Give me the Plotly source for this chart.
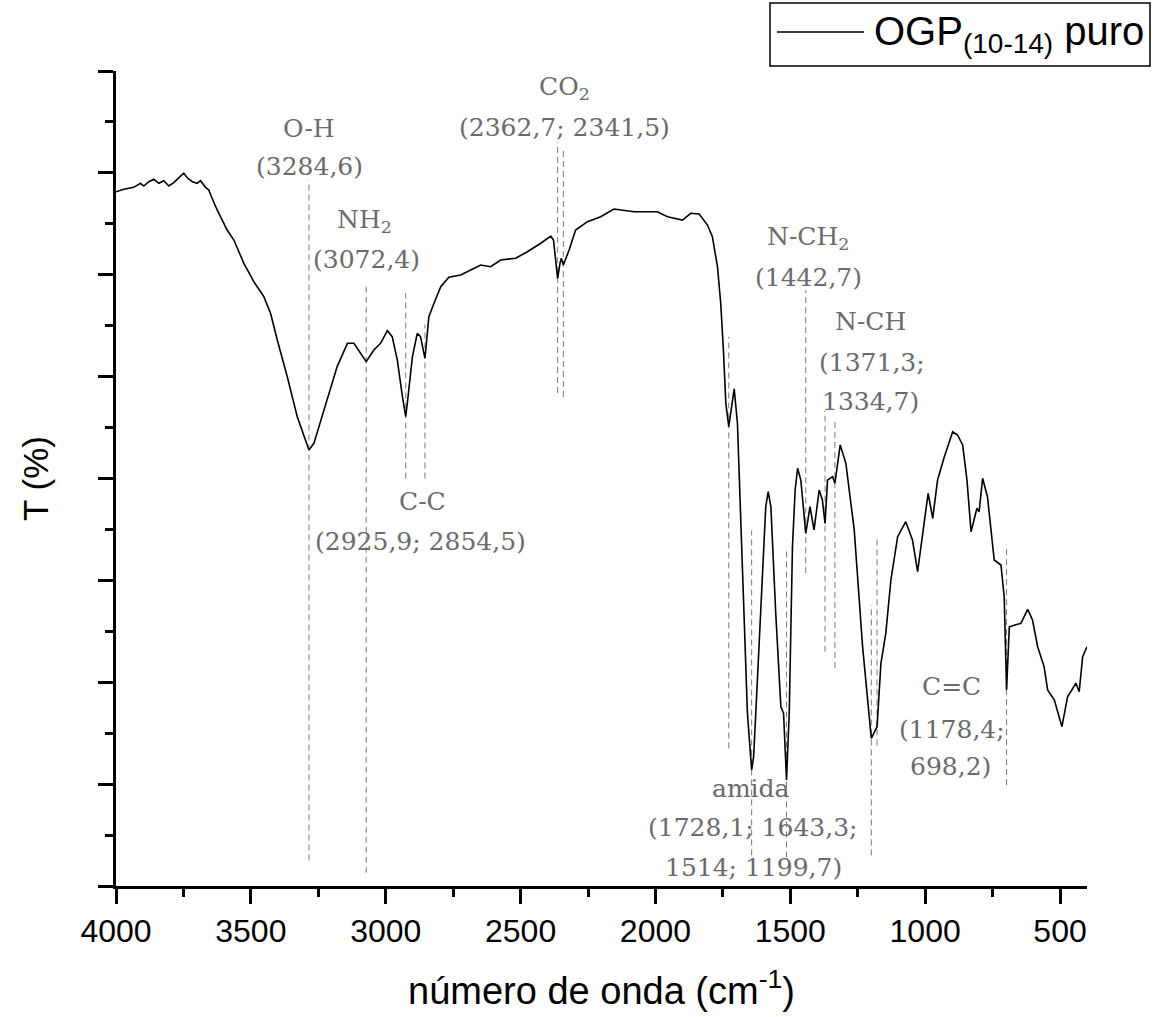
import plotly.graph_objects as go

# ---------------- data ----------------
wavenumber = [4000, 3971, 3934, 3909, 3897, 3878, 3860, 3841, 3823, 3804, 3786, 3761, 3749, 3734, 3717,
              3699, 3687, 3668, 3656, 3646, 3625, 3588, 3563, 3526, 3489, 3452, 3427, 3402, 3365, 3328,
              3284.6, 3266, 3217, 3180, 3142, 3118, 3072.4, 3044, 3019, 2994, 2976, 2957, 2938, 2925.9,
              2920, 2901, 2883, 2871, 2854.5, 2840, 2821, 2796, 2766, 2722, 2685, 2648, 2611, 2574, 2518,
              2475, 2425, 2388, 2378, 2362.7, 2354, 2349, 2341.5, 2320, 2296, 2252, 2203, 2154, 2079,
              1993, 1955, 1900, 1869, 1838, 1807, 1789, 1770, 1758, 1748, 1739, 1728.1, 1718, 1708, 1696,
              1684, 1671, 1659, 1643.3, 1636, 1622, 1603, 1591, 1582, 1572, 1554, 1535, 1525, 1514, 1504,
              1492, 1482, 1473, 1461, 1442.7, 1427, 1412, 1393, 1381, 1371.3, 1362, 1343, 1334.7, 1315,
              1294, 1263, 1232, 1199.7, 1178.4, 1164, 1146, 1127, 1102, 1072, 1047, 1028, 1004, 989, 972,
              954, 929, 898, 880, 861, 845, 830, 808, 800, 787, 769, 744, 719, 707, 698.2, 688, 670, 645,
              620, 602, 583, 559, 546, 521, 493, 472, 441, 429, 416, 400]
transmittance = [68.15, 68.39, 68.58, 68.98, 68.71, 69.13, 69.37, 68.98, 69.23, 68.71, 69.04, 69.69, 69.96,
                 69.47, 69.13, 68.98, 69.23, 68.58, 68.32, 67.66, 66.36, 64.39, 63.41, 61.12, 59.32, 57.85,
                 56.22, 53.60, 49.99, 46.07, 42.80, 43.46, 47.71, 50.98, 53.27, 53.27, 51.47, 52.61, 53.27,
                 54.51, 53.92, 51.63, 48.03, 46.07, 47.38, 51.96, 54.25, 53.92, 51.80, 55.88, 57.20, 58.83,
                 59.75, 59.98, 60.47, 60.96, 60.79, 61.45, 61.62, 62.26, 63.09, 63.80, 63.41, 59.65, 61.12,
                 61.62, 60.96, 62.43, 64.39, 65.21, 65.70, 66.45, 66.19, 66.19, 65.70, 65.37, 66.03, 65.96,
                 64.88, 63.74, 60.79, 57.20, 52.61, 47.38, 45.09, 47.05, 48.79, 45.42, 36.58, 26.77, 16.95,
                 11.39, 12.69, 20.22, 30.04, 37.23, 38.70, 37.23, 26.77, 17.60, 16.95, 10.40, 16.95, 33.31,
                 38.87, 41.00, 39.85, 34.62, 37.23, 34.95, 38.87, 37.89, 35.60, 39.85, 40.18, 39.53, 43.29,
                 41.49, 34.95, 23.49, 14.50, 15.64, 21.86, 24.80, 30.04, 34.29, 35.76, 33.96, 30.85, 35.93,
                 38.55, 36.09, 39.85, 42.14, 44.59, 44.27, 43.29, 39.85, 34.78, 37.08, 36.74, 40.02, 38.21,
                 32.00, 31.51, 28.40, 19.24, 25.45, 25.62, 25.79, 27.16, 26.11, 23.49, 21.53, 19.24, 18.26,
                 15.64, 18.58, 19.90, 19.07, 22.51, 23.49]

series_name = "OGP<sub>(10-14)</sub> puro"

# assigned bands (cm-1) and the vertical extent of their marker lines (T %)
band_positions = [3284.6, 3072.4, 2925.9, 2854.5, 2362.7, 2341.5, 1728.1, 1643.3, 1514.0,
                  1442.7, 1371.3, 1334.7, 1199.7, 1178.4, 698.2]
band_top = [69.3, 59.2, 58.2, 55.1, 73.0, 72.5, 53.9, 34.9, 33.2, 58.5, 46.7, 45.9, 27.6, 34.4, 33.5]
band_bottom = [2.5, 1.3, 40.0, 40.0, 48.4, 48.0, 13.5, 3.0, 2.8, 30.7, 23.0, 21.4, 3.0, 13.8, 9.9]

# band label lines
label_text = ["O-H", "(3284,6)",
              "CO<sub>2</sub>", "(2362,7; 2341,5)",
              "NH<sub>2</sub>", "(3072,4)",
              "C-C", "(2925,9; 2854,5)",
              "N-CH<sub>2</sub>", "(1442,7)",
              "N-CH", "(1371,3;", "1334,7)",
              "amida", "(1728,1; 1643,3;", "1514; 1199,7)",
              "C=C", "(1178,4;", "698,2)"]
label_x = [3283, 3283,
           2336, 2336,
           3078, 3072,
           2863, 2871,
           1435, 1432,
           1201, 1197, 1201,
           1647, 1637, 1637,
           901, 901, 906]
label_y = [74.4, 70.6,
           78.3, 74.5,
           65.3, 61.5,
           37.7, 33.8,
           63.6, 59.7,
           55.4, 51.4, 47.6,
           9.6, 5.7, 1.8,
           19.6, 15.4, 11.7]

x_tick_values = [4000, 3500, 3000, 2500, 2000, 1500, 1000, 500]
x_tick_labels = ["4000", "3500", "3000", "2500", "2000", "1500", "1000", "500"]

# ---------------- figure ----------------
W, H = 1157, 1017
L, R, T, B = 116, 70, 71, 131

fig = go.Figure()
fig.add_trace(go.Scatter(x=wavenumber, y=transmittance, mode="lines", name=series_name,
                         line=dict(color="black", width=1.6), showlegend=False))

gray = "#6a6a6a"
for xv, y0, y1 in zip(band_positions, band_bottom, band_top):
    fig.add_shape(type="line", xref="x", yref="y", x0=xv, x1=xv, y0=y0, y1=y1,
                  line=dict(color="#7a7a7a", width=1, dash="6px,4px"), layer="below")

for t, xv, yv in zip(label_text, label_x, label_y):
    fig.add_annotation(x=xv, y=yv, xref="x", yref="y", text=t, showarrow=False,
                       font=dict(family="DejaVu Serif", size=25, color=gray),
                       xanchor="center", yanchor="middle")

# manual legend box (top right)
plot_w = W - L - R
plot_h = H - T - B
def px2paper_x(px):
    return (px - L) / plot_w
def px2paper_y(py):
    return (H - B - py) / plot_h

fig.add_shape(type="rect", xref="paper", yref="paper",
              x0=px2paper_x(770), x1=px2paper_x(1150), y0=px2paper_y(66), y1=px2paper_y(3),
              line=dict(color="black", width=1.5), fillcolor="white")
fig.add_shape(type="line", xref="paper", yref="paper",
              x0=px2paper_x(777), x1=px2paper_x(864), y0=px2paper_y(32), y1=px2paper_y(32),
              line=dict(color="black", width=1.6))
fig.add_annotation(xref="paper", yref="paper", x=px2paper_x(872), y=px2paper_y(34),
                   text=series_name, showarrow=False, xanchor="left", yanchor="middle",
                   font=dict(family="Liberation Sans, Arial", size=40, color="black"))

fig.update_layout(
    width=W, height=H,
    margin=dict(l=L, r=R, t=T, b=B, autoexpand=False),
    paper_bgcolor="white", plot_bgcolor="white",
    font=dict(family="Liberation Sans, Arial", color="black"),
)
fig.update_xaxes(
    range=[4000, 400], showgrid=False, zeroline=False,
    showline=True, linecolor="black", linewidth=2.5,
    tickmode="array", tickvals=x_tick_values, ticktext=x_tick_labels,
    ticks="outside", ticklen=15, tickwidth=2.5, tickcolor="black",
    tickfont=dict(size=32, family="Liberation Sans, Arial", color="black"),
    minor=dict(ticks="outside", ticklen=8, tickwidth=2.5, tickcolor="black", dtick=250, tick0=0, showgrid=False),
    title=dict(text="número de onda (cm<sup>-1</sup>)", font=dict(size=38, family="Liberation Sans, Arial"), standoff=30),
)
fig.update_yaxes(
    range=[0, 80], showgrid=False, zeroline=False,
    showline=True, linecolor="black", linewidth=2.5,
    tickmode="linear", tick0=0, dtick=10, showticklabels=False,
    ticks="outside", ticklen=15, tickwidth=2.5, tickcolor="black",
    minor=dict(ticks="outside", ticklen=8, tickwidth=2.5, tickcolor="black", dtick=5, tick0=0, showgrid=False),
    title=dict(text="T (%)", font=dict(size=35, family="Liberation Sans, Arial"), standoff=40),
)

fig.write_html("out.html", config={"displayModeBar": False},
               post_script="document.body.style.margin='0px';")
